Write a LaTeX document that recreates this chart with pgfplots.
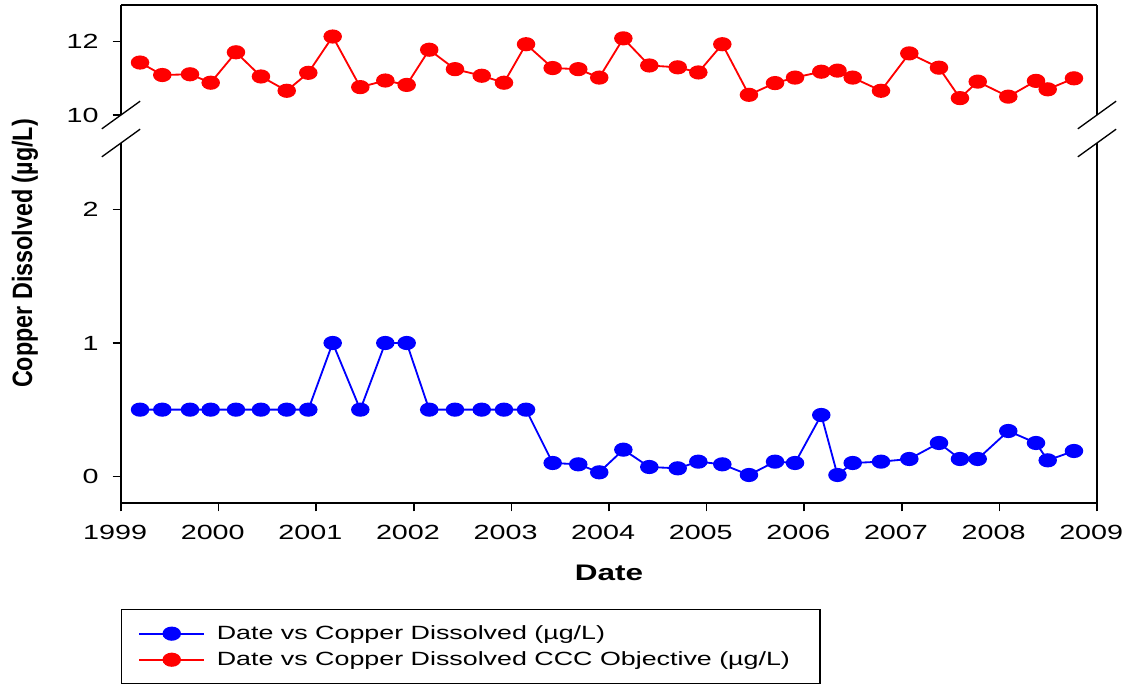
\documentclass[border=0pt]{standalone}
\usepackage{pgfplots}
\pgfplotsset{compat=1.18}
\usepackage{pgfplotstable}
\usepackage{fontspec}
\setmainfont{Liberation Sans}[FakeStretch=1.4]
\newfontfamily\ylabfont{Liberation Sans}

\pgfplotstableread{
date cu
1999.195 0.5
1999.423 0.5
1999.707 0.5
1999.919 0.5
2000.178 0.5
2000.434 0.5
2000.698 0.5
2000.919 0.5
2001.169 1.0
2001.452 0.5
2001.708 1.0
2001.927 1.0
2002.158 0.5
2002.422 0.5
2002.696 0.5
2002.924 0.5
2003.150 0.5
2003.423 0.10
2003.685 0.09
2003.900 0.03
2004.147 0.20
2004.413 0.07
2004.704 0.06
2004.915 0.11
2005.161 0.09
2005.434 0.01
2005.701 0.11
2005.906 0.10
2006.175 0.46
2006.341 0.01
2006.497 0.10
2006.787 0.11
2007.077 0.13
2007.381 0.25
2007.596 0.13
2007.778 0.13
2008.091 0.34
2008.375 0.25
2008.495 0.12
2008.764 0.19
}\copper

\pgfplotstableread{
date ccc
1999.195 11.43
1999.423 11.09
1999.707 11.11
1999.919 10.88
2000.178 11.71
2000.434 11.05
2000.698 10.66
2000.919 11.15
2001.169 12.14
2001.452 10.76
2001.708 10.94
2001.927 10.82
2002.158 11.78
2002.422 11.25
2002.696 11.07
2002.924 10.88
2003.150 11.93
2003.423 11.28
2003.685 11.25
2003.900 11.02
2004.147 12.09
2004.413 11.35
2004.704 11.30
2004.915 11.16
2005.161 11.93
2005.434 10.55
2005.701 10.87
2005.906 11.02
2006.175 11.18
2006.341 11.21
2006.497 11.02
2006.787 10.66
2007.077 11.68
2007.381 11.29
2007.596 10.46
2007.778 10.91
2008.091 10.50
2008.375 10.93
2008.495 10.70
2008.764 11.00
}\objective

\pgfplotsset{
  panel/.style={
    scale only axis, width=585.6pt,
    xmin=1999, xmax=2009,
    axis y line*=box, ytick pos=left,
    axis line style={line width=1pt},
    tick align=outside, major tick length=5pt,
    tick style={line width=0.9pt, black},
    tick label style={font=\fontsize{12.3}{14}\selectfont},
    yticklabel style={xshift=-5pt},
    xticklabel style={yshift=-4.5pt, xshift=-3.5pt},
    /pgf/number format/assume math mode=true,
    /pgf/number format/1000 sep={},
    clip=false,
  },
  series/.style={color=#1, line width=1.1pt, mark=*, mark size=3.7pt,
    mark options={xscale=1.35, solid, fill=#1}},
}

\begin{document}
\begin{tikzpicture}
\path[use as bounding box] (0,0) rectangle (675pt,411pt);

% upper panel: objective
\begin{axis}[panel, at={(72.6pt,342pt)}, anchor=south west, height=66pt,
  ymin=10, ymax=13, ytick={10,12},
  axis x line*=top, xtick=\empty]
\addplot[series=red] table[x=date, y=ccc] {\objective};
\draw[line width=0.8pt] (rel axis cs:0,0) ++(-11.5pt,-8.3pt) -- ++(23pt,16.6pt);
\draw[line width=0.8pt] (rel axis cs:1,0) ++(-11.5pt,-8.3pt) -- ++(23pt,16.6pt);
\end{axis}

% lower panel: measured copper
\begin{axis}[panel, at={(72.6pt,109.2pt)}, anchor=south west, height=216pt,
  ymin=-0.2, ymax=2.5, ytick={0,1,2},
  axis x line*=bottom, xtick pos=bottom, xtick={1999,2000,...,2009},
  xlabel={\bfseries Date},
  xlabel style={at={(axis description cs:0.5,-0.1944)}, anchor=center,
    font=\fontsize{13.5}{16}\selectfont},
  legend style={at={(0,-0.2944)}, anchor=north west, draw=black,
    line width=0.8pt, inner xsep=10pt, inner ysep=7.5pt,
    font=\fontsize{11.5}{13.5}\selectfont, row sep=1.8pt,
    /tikz/every odd column/.append style={column sep=5pt}},
  legend cell align=left,
  legend image code/.code={\draw[mark repeat=2, mark phase=2]
    plot coordinates {(0pt,0pt) (19.5pt,0pt) (39pt,0pt)};}]
\addplot[series=blue] table[x=date, y=cu] {\copper};
\addlegendentry{Date vs Copper Dissolved (µg/L)}
\addlegendimage{series=red}
\addlegendentry{Date vs Copper Dissolved CCC Objective (µg/L)\hspace*{6pt}}
\draw[line width=0.8pt] (rel axis cs:0,1) ++(-11.5pt,-8.3pt) -- ++(23pt,16.6pt);
\draw[line width=0.8pt] (rel axis cs:1,1) ++(-11.5pt,-8.3pt) -- ++(23pt,16.6pt);
\end{axis}

\node[rotate=90, yscale=1.2, font=\ylabfont\bfseries\fontsize{14}{17}\selectfont]
  at (15pt,258.9pt) {Copper Dissolved (µg/L)};
\end{tikzpicture}
\end{document}
